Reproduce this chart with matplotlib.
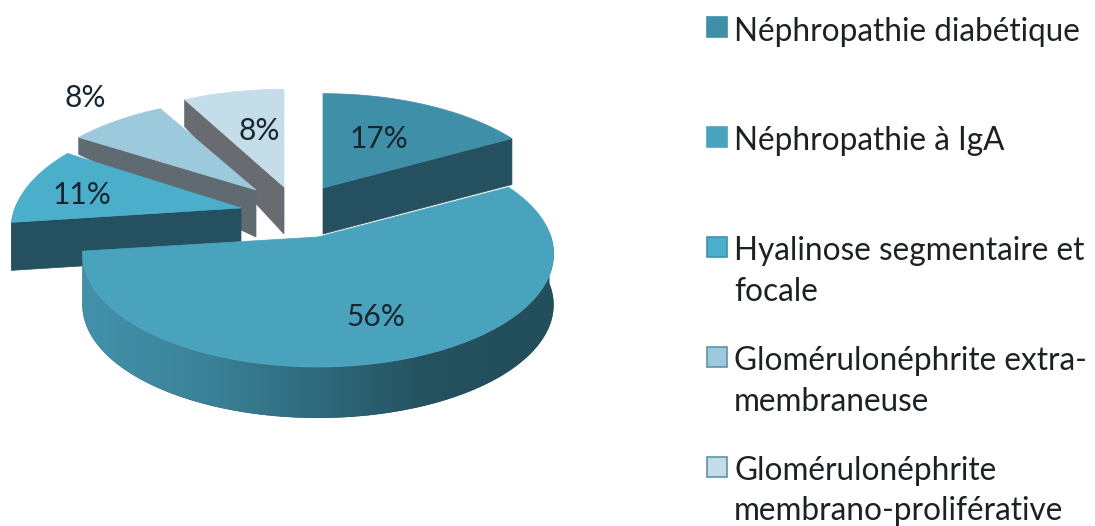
import numpy as np
import matplotlib
matplotlib.use("Agg")
import matplotlib.pyplot as plt
from matplotlib.colors import LinearSegmentedColormap
from matplotlib.patches import Polygon, Rectangle

# data, clockwise from 12 o'clock
values = [17, 56, 11, 8, 8]
pct_labels = ["17%", "56%", "11%", "8%", "8%"]
legend_lines = [
    ["Néphropathie diabétique"],
    ["Néphropathie à IgA"],
    ["Hyalinose segmentaire et", "focale"],
    ["Glomérulonéphrite extra-", "membraneuse"],
    ["Glomérulonéphrite", "membrano-proliférative"],
]

# look of the slices
top_colors = ["#3f8fa9", "#4aa3bc", "#4bafcb", "#9dc9dc", "#c4dde9"]
side_colors = ["#24505f", "#24505f", "#24505f", "#5f6b71", "#686c70"]
legend_edges = ["#3f8fa9", "#4aa3bc", "#3d93ad", "#5f93a8", "#5f93a8"]

# layout, in pixels
apex_x = [323, 318, 241, 256, 284]
apex_y = [188, 237, 208, 190, 187]
radius_x = [235, 233, 226, 231, 240]
radius_y = [112, 110.6, 112, 108, 116]
persp = [0.187, 0.149, 0.187, 0.187, 0.187]
depth_apex = [46, 51, 48, 47, 47]
depth_rim = [46, 51, 48, 17, 27]
label_x = [379, 376, 82, 85, 259]
label_y = [139, 317, 195, 98, 131]
legend_box_y = [17, 127, 237, 347, 457]
legend_baselines = [[41], [150], [260, 301], [370, 411], [480, 520]]

plt.rcParams['font.family'] = ['Lato', 'DejaVu Sans']


def rim(i, theta):
    # disc seen from the front, the far side comes out smaller
    u, v = np.sin(theta), np.cos(theta)
    w = 1 + persp[i] * v
    return apex_x[i] + radius_x[i] * u / w, apex_y[i] - radius_y[i] * v / w


fig = plt.figure(figsize=(10.95, 5.26), dpi=100)
ax = fig.add_axes([0, 0, 1, 1])

edges = np.radians(np.concatenate(([0], np.cumsum(values))) / sum(values) * 360)
shade = LinearSegmentedColormap.from_list(
    'shade', [(0, "#4391ab"), (0.25, "#3b8399"), (0.5, "#2f6a7d"), (0.72, "#25525f"), (1, "#234e5c")])


def draw_slice(i, z):
    cx, cy = apex_x[i], apex_y[i]
    thetas = np.linspace(edges[i], edges[i + 1], 200)
    xs, ys = rim(i, thetas)

    # radial face that looks at the viewer
    if i != 1:
        ex, ey = rim(i, edges[i + 1] if i == 0 else edges[i])
        ax.add_patch(Polygon([(ex, ey), (cx, cy), (cx, cy + depth_apex[i]), (ex, ey + depth_rim[i])],
                             closed=True, fc=side_colors[i], ec=side_colors[i], lw=0.5, zorder=z))

    # outer wall, only on the near half
    near = np.cos(thetas) < 0.05
    if near.sum() > 1:
        nx, ny = xs[near], ys[near]
        wall = np.column_stack((np.r_[nx, nx[::-1]], np.r_[ny, ny[::-1] + depth_rim[i]]))
        patch = Polygon(wall, closed=True, fc=side_colors[i], ec='none', zorder=z)
        ax.add_patch(patch)
        if i == 1:
            # wall of the big slice fades from light on the left to dark on the right
            img = ax.imshow(np.linspace(0, 1, 256)[None, :], cmap=shade, aspect='auto', zorder=z,
                            extent=(nx.min(), nx.max(), ny.max() + depth_rim[i], ny.min()))
            img.set_clip_path(patch)

    # top face
    ax.add_patch(Polygon(np.column_stack((np.r_[cx, xs], np.r_[cy, ys])), closed=True,
                         fc=top_colors[i], ec=top_colors[i], lw=0.5, zorder=z + 0.5))


# back to front
for z, i in enumerate([4, 3, 2, 0, 1]):
    draw_slice(i, z + 1)

for i, lab in enumerate(pct_labels):
    ax.text(label_x[i], label_y[i], lab, fontsize=21.5, color="#18252e",
            ha='center', va='center', zorder=10)

for i, lines in enumerate(legend_lines):
    ax.add_patch(Rectangle((706.5, legend_box_y[i]), 20, 20, fc=top_colors[i], ec=legend_edges[i], lw=1.2))
    for line, base in zip(lines, legend_baselines[i]):
        ax.text(734, base, line, fontsize=22.7, color="#1c2126", ha='left', va='baseline')

ax.set_xlim(0, 1095)
ax.set_ylim(526, 0)
ax.axis('off')

fig.savefig("out.png", dpi=100)
